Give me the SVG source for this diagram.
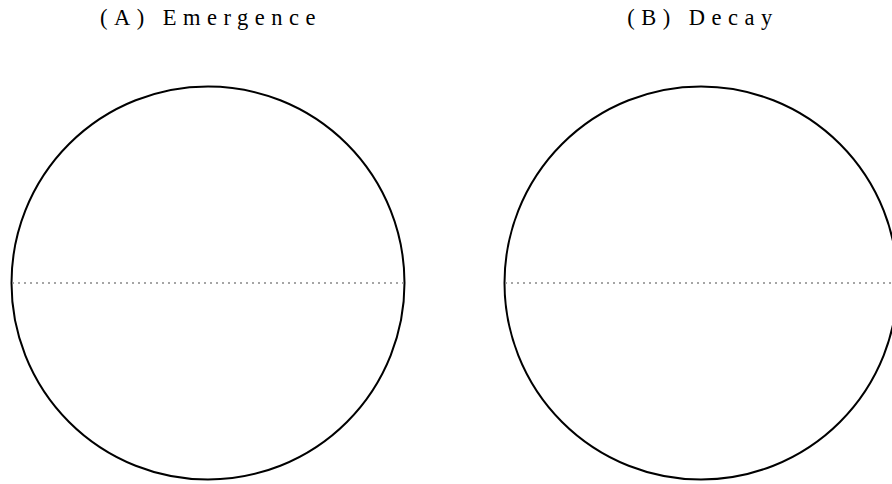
<svg xmlns="http://www.w3.org/2000/svg" width="892" height="484" viewBox="0 0 892 484">
<style>
.title{font-family:"Liberation Serif","DejaVu Serif",serif;font-size:22.5px;letter-spacing:6.5px;fill:#000;text-anchor:middle}
.disk{fill:none;stroke:#000;stroke-width:2}
.eq{stroke:#888;stroke-width:1.5;stroke-dasharray:2,4;fill:none}
</style>
<rect width="892" height="484" fill="#fff"/>
<g id="panelA">
<text class="title" x="211" y="25">(A) Emergence</text>
<circle class="disk" cx="208" cy="283" r="196.5"/>
<line class="eq" x1="12" y1="283" x2="404" y2="283"/>
</g>
<g id="panelB">
<text class="title" x="703" y="25">(B) Decay</text>
<circle class="disk" cx="701" cy="283" r="196.5"/>
<line class="eq" x1="505" y1="283" x2="892" y2="283"/>
</g>
</svg>
